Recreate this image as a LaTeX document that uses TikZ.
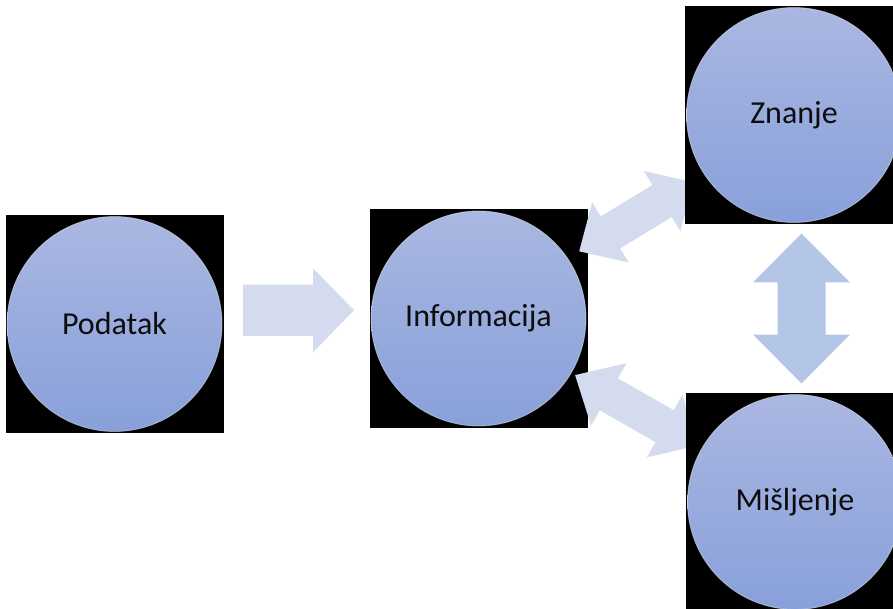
\documentclass[tikz,border=0pt]{standalone}
\usepackage{fontspec}
\setmainfont{Carlito}
\usetikzlibrary{calc}
\pgfdeclarelayer{lower}
\pgfdeclarelayer{arrows}
\pgfsetlayers{lower,arrows,main}
\definecolor{balltop}{RGB}{170,183,225}
\definecolor{ballbot}{RGB}{136,160,218}
\definecolor{arrlight}{RGB}{213,219,238}
\definecolor{arrblue}{RGB}{180,198,231}
\tikzset{
  sq/.style={rectangle, fill=black, minimum size=218pt, inner sep=0pt},
  ball/.style={circle, minimum size=215pt, inner sep=0pt, top color=balltop, bottom color=ballbot,
    draw=white, draw opacity=0.45, line width=0.8pt, font=\fontsize{32}{38}\selectfont, text=black!95},
  pics/dblarrow/.style n args={4}{code={
    \path[pic actions] (-#1,0) -- (-#1+#2,#3) -- (-#1+#2,#4) -- (#1-#2,#4) -- (#1-#2,#3) -- (#1,0)
      -- (#1-#2,-#3) -- (#1-#2,-#4) -- (-#1+#2,-#4) -- (-#1+#2,-#3) -- cycle;}},
  pics/sglarrow/.style n args={4}{code={
    \path[pic actions] (-#1,-#4) -- (#1-#2,-#4) -- (#1-#2,-#3) -- (#1,0) -- (#1-#2,#3) -- (#1-#2,#4)
      -- (-#1,#4) -- cycle;}},
}
\begin{document}
\begin{tikzpicture}[x=1pt,y=-1pt]
\useasboundingbox (0,0) rectangle (893,609);
\clip (0,0) rectangle (893,609);
\begin{pgfonlayer}{lower}
  \node[sq] (podsq) at (114.5,324) {};
  \node[ball] (pod) at (114.5,324) {Podatak};
  \node[sq] (infosq) at (478.5,318.5) {};
  \node[ball] (info) at (478.5,318.5) {Informacija};
\end{pgfonlayer}
\node[sq] (znsq) at (794,115) {};
\node[ball] (zn) at (794,115) {Znanje};
\node[sq] (missq) at (795,502) {};
\node[ball] (mis) at (795,502) {Mišljenje};
\begin{pgfonlayer}{arrows}
  \coordinate (m0) at ($(pod)!0.5!(info)+(2,-11)$);
  \coordinate (m1) at ($(info)!0.5!(zn)$);
  \coordinate (m2) at ($(info)!0.5!(mis)$);
  \coordinate (m3) at ($(zn)!0.5!(mis)+(7,0)$);
  \pic[fill=arrlight] at (m0) {sglarrow={55.5}{41}{42}{25.5}};
  \pic[fill=arrlight, rotate=31.2] at (m1) {dblarrow={66.7}{36.5}{35.2}{18.7}};
  \pic[fill=arrlight, rotate=-29.7] at (m2) {dblarrow={71}{38.9}{35.9}{18.4}};
  \pic[fill=arrblue, rotate=90] at (m3) {dblarrow={75}{49}{48.5}{24}};
\end{pgfonlayer}
\end{tikzpicture}
\end{document}
